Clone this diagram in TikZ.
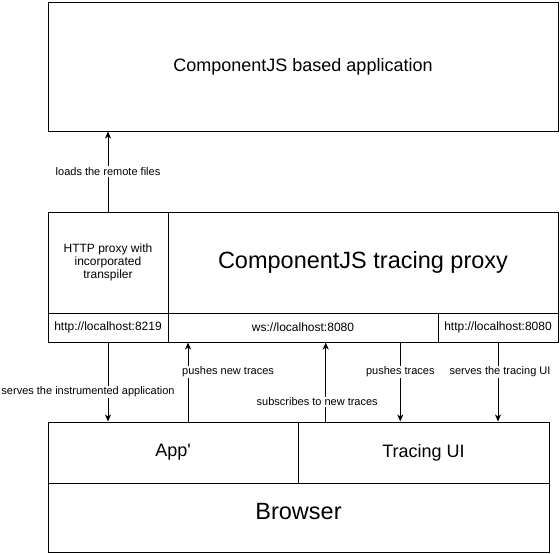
\documentclass[tikz,border=0pt]{standalone}
\usepackage{fontspec}
\setmainfont{Liberation Sans}
\usetikzlibrary{shapes,arrows,arrows.meta}
\usetikzlibrary{calc}
\tikzstyle{line} = [draw, -{Stealth[length=7pt, width=6pt, inset=2pt]}]
\tikzstyle{box} = [draw, rectangle, inner sep=0pt, align=center]
\tikzstyle{lbl} = [fill=white, inner sep=1pt, font=\fontsize{11}{13}\selectfont]
\tikzstyle{port} = [box, minimum height=29pt, font=\fontsize{12}{14}\selectfont]

\begin{document}
\begin{tikzpicture}[x=1pt,y=-1pt,line width=1pt]

\useasboundingbox (0,0) rectangle (560,554);
%\draw[help lines] (0,0) grid (560,554);

% application
\node[box, minimum width=510pt, minimum height=129pt, font=\fontsize{18}{22}\selectfont] (app) at (303,66.5) {ComponentJS based application};

% proxy
\node[box, minimum width=120pt, minimum height=101pt, font=\fontsize{12}{13}\selectfont] (http) at (108,262.5) {HTTP proxy with\\incorporated\\transpiler};
\node[box, minimum width=390pt, minimum height=101pt, font=\fontsize{23.5}{28}\selectfont] (tracer) at (363,262.5) {ComponentJS tracing proxy};
\node[port, minimum width=120pt] (p8219) at (108,327.5) {http://localhost:8219};
\node[port, minimum width=270pt] (ws) at (303,327.5) {ws://localhost:8080};
\node[port, minimum width=120pt] (p8080) at (498,327.5) {http://localhost:8080};

% browser
\node[box, minimum width=250pt, minimum height=61pt, font=\fontsize{18}{22}\selectfont] (appx) at (173,452.5) {App\textquotesingle};
\node[box, minimum width=251pt, minimum height=61pt, font=\fontsize{18}{22}\selectfont] (ui) at (423.5,452.5) {Tracing UI};
\node[box, minimum width=501pt, minimum height=69pt, font=\fontsize{23.5}{28}\selectfont] (browser) at (298.5,517.5) {\raisebox{12pt}{Browser}};

\coordinate (push) at ($(appx.north west)!0.56!(appx.north east)$);
\coordinate (subs) at ($(ui.north west)!0.112!(ui.north east)$);
\coordinate (pull) at ($(ws.south west)!0.859!(ws.south east)$);

\draw[line] (http.north) -- (http.north |- app.south) node[lbl, midway] {loads the remote files};
\draw[line] (p8219.south) -- (p8219.south |- appx.north) node[lbl, pos=0.625, xshift=-20pt] {serves the instrumented application};
\draw[line] (push) -- (push |- ws.south) node[lbl, pos=0.625, xshift=40pt] {pushes new traces};
\draw[line] (subs) -- (subs |- ws.south) node[lbl, pos=0.25, xshift=-8.5pt] {subscribes to new traces};
\draw[line] (pull) -- (pull |- ui.north) node[lbl, pos=0.375] {pushes traces};
\draw[line] (p8080.south) -- (p8080.south |- ui.north) node[lbl, pos=0.375, xshift=2pt] {serves the tracing UI};

\end{tikzpicture}
\end{document}
